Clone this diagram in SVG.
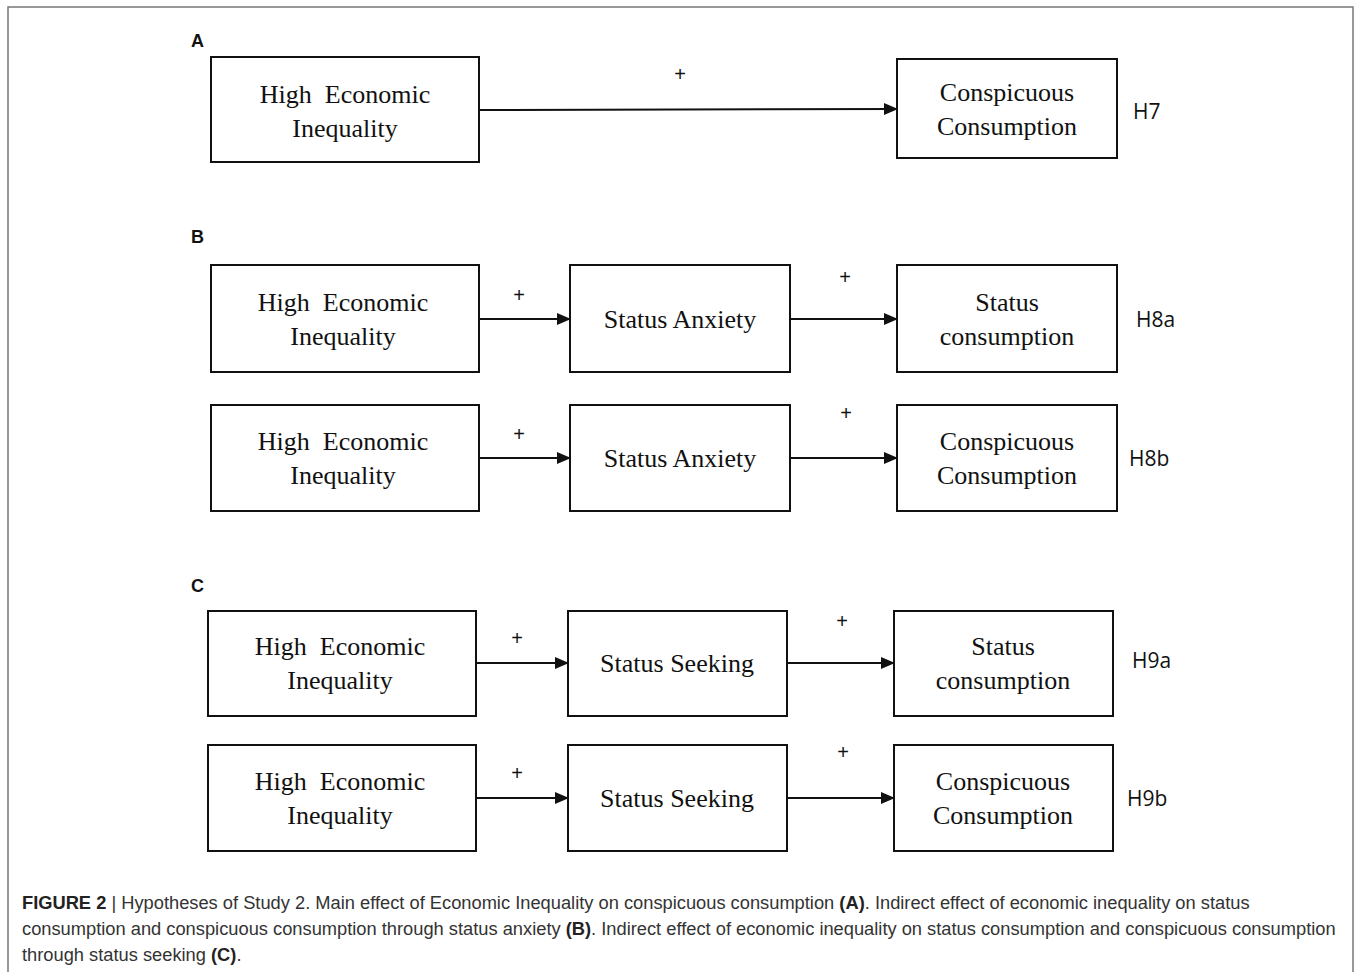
<svg xmlns="http://www.w3.org/2000/svg" width="1357" height="972" viewBox="0 0 1357 972">
<style>
.box{fill:#fff;stroke:#111;stroke-width:2}
.bt{font-family:"Liberation Serif",serif;font-size:26px;fill:#111;text-anchor:middle;white-space:pre}
.pl{font-family:"Liberation Sans",sans-serif;font-size:20px;fill:#111;text-anchor:middle}
.h{font-family:"Open Sans","Liberation Sans",sans-serif;font-size:21px;fill:#111}
.lab{font-family:"Liberation Sans",sans-serif;font-size:18px;font-weight:bold;fill:#111}
.cap{font-family:"Liberation Sans",sans-serif;font-size:18.3px;fill:#333}
.cap .b{font-weight:bold;fill:#222}
.con{stroke:#111;stroke-width:2;fill:none;marker-end:url(#ah)}
</style>
<defs>
<marker id="ah" markerWidth="14" markerHeight="12" refX="13" refY="6" orient="auto" markerUnits="userSpaceOnUse">
<path d="M0,0 L14,6 L0,12 Z" fill="#111"/>
</marker>
</defs>
<rect x="8" y="7" width="1345" height="980" fill="#fff" stroke="#777" stroke-width="1.5"/>
<text class="lab" x="191" y="47">A</text>
<text class="lab" x="191" y="243">B</text>
<text class="lab" x="191" y="592">C</text>
<g id="connectors">
<line class="con" x1="479" y1="110" x2="897" y2="109"/>
<line class="con" x1="479" y1="319" x2="570" y2="319"/>
<line class="con" x1="790" y1="319" x2="897" y2="319"/>
<line class="con" x1="479" y1="458" x2="570" y2="458"/>
<line class="con" x1="790" y1="458" x2="897" y2="458"/>
<line class="con" x1="476" y1="663" x2="568" y2="663"/>
<line class="con" x1="787" y1="663" x2="894" y2="663"/>
<line class="con" x1="476" y1="798" x2="568" y2="798"/>
<line class="con" x1="787" y1="798" x2="894" y2="798"/>
<text class="pl" x="680" y="81">+</text>
<text class="pl" x="519" y="302">+</text>
<text class="pl" x="845" y="284">+</text>
<text class="pl" x="519" y="441">+</text>
<text class="pl" x="846" y="420">+</text>
<text class="pl" x="517" y="645">+</text>
<text class="pl" x="842" y="628">+</text>
<text class="pl" x="517" y="780">+</text>
<text class="pl" x="843" y="759">+</text>
</g>
<g id="a1"><rect class="box" x="211" y="57" width="268" height="105"/><text class="bt" x="345" y="103">High  Economic</text><text class="bt" x="345" y="137">Inequality</text></g>
<g id="a2"><rect class="box" x="897" y="59" width="220" height="99"/><text class="bt" x="1007" y="101">Conspicuous</text><text class="bt" x="1007" y="135">Consumption</text></g>
<text class="h" x="1133" y="119">H7</text>
<g id="b1"><rect class="box" x="211" y="265" width="268" height="107"/><text class="bt" x="343" y="311">High  Economic</text><text class="bt" x="343" y="345">Inequality</text></g>
<g id="b2"><rect class="box" x="570" y="265" width="220" height="107"/><text class="bt" x="680" y="328">Status Anxiety</text></g>
<g id="b3"><rect class="box" x="897" y="265" width="220" height="107"/><text class="bt" x="1007" y="311">Status</text><text class="bt" x="1007" y="345">consumption</text></g>
<text class="h" x="1136" y="327">H8a</text>
<g id="b4"><rect class="box" x="211" y="405" width="268" height="106"/><text class="bt" x="343" y="450">High  Economic</text><text class="bt" x="343" y="484">Inequality</text></g>
<g id="b5"><rect class="box" x="570" y="405" width="220" height="106"/><text class="bt" x="680" y="467">Status Anxiety</text></g>
<g id="b6"><rect class="box" x="897" y="405" width="220" height="106"/><text class="bt" x="1007" y="450">Conspicuous</text><text class="bt" x="1007" y="484">Consumption</text></g>
<text class="h" x="1129" y="466">H8b</text>
<g id="c1"><rect class="box" x="208" y="611" width="268" height="105"/><text class="bt" x="340" y="655">High  Economic</text><text class="bt" x="340" y="689">Inequality</text></g>
<g id="c2"><rect class="box" x="568" y="611" width="219" height="105"/><text class="bt" x="677" y="672">Status Seeking</text></g>
<g id="c3"><rect class="box" x="894" y="611" width="219" height="105"/><text class="bt" x="1003" y="655">Status</text><text class="bt" x="1003" y="689">consumption</text></g>
<text class="h" x="1132" y="668">H9a</text>
<g id="c4"><rect class="box" x="208" y="745" width="268" height="106"/><text class="bt" x="340" y="790">High  Economic</text><text class="bt" x="340" y="824">Inequality</text></g>
<g id="c5"><rect class="box" x="568" y="745" width="219" height="106"/><text class="bt" x="677" y="807">Status Seeking</text></g>
<g id="c6"><rect class="box" x="894" y="745" width="219" height="106"/><text class="bt" x="1003" y="790">Conspicuous</text><text class="bt" x="1003" y="824">Consumption</text></g>
<text class="h" x="1127" y="806">H9b</text>
<text class="cap" x="22" y="909"><tspan class="b">FIGURE 2</tspan> | Hypotheses of Study 2. Main effect of Economic Inequality on conspicuous consumption <tspan class="b">(A)</tspan>. Indirect effect of economic inequality on status</text>
<text class="cap" x="22" y="935">consumption and conspicuous consumption through status anxiety <tspan class="b">(B)</tspan>. Indirect effect of economic inequality on status consumption and conspicuous consumption</text>
<text class="cap" x="22" y="961">through status seeking <tspan class="b">(C)</tspan>.</text>
</svg>
